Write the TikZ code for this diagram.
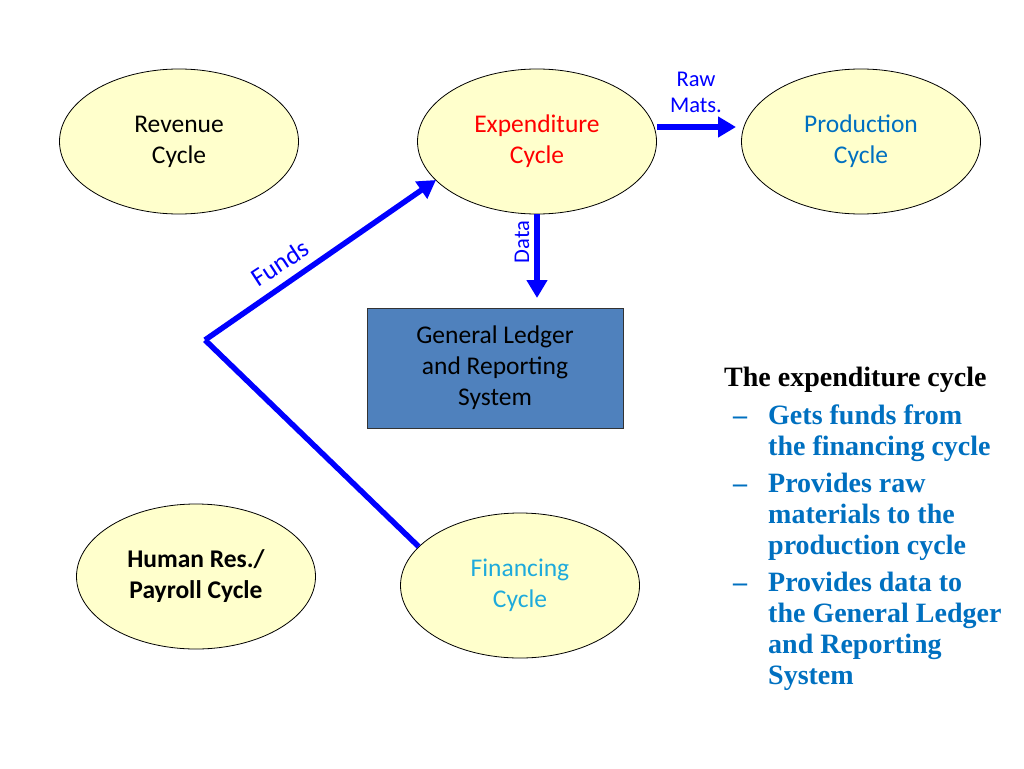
\documentclass[tikz,border=0pt]{standalone}
\usepackage{fontspec}
\setmainfont{Carlito}
\newfontfamily\timesf{Liberation Serif}
\usetikzlibrary{shapes.geometric,arrows.meta}
\definecolor{cyc}{RGB}{255,255,204}
\definecolor{glblue}{RGB}{79,129,189}
\definecolor{txtblue}{RGB}{0,112,192}
\definecolor{fincyan}{RGB}{30,170,220}
\definecolor{arrblue}{RGB}{0,0,255}
\tikzset{
  cycle/.style={ellipse, draw=black, line width=0.8pt, fill=cyc, minimum width=239pt, minimum height=145pt, inner sep=0pt, align=center, font=\fontsize{25.5}{31}\selectfont},
  flow/.style={draw=arrblue, line width=5.5pt},
  flowarrow/.style={flow, -{Triangle[length=18pt,width=20pt]}},
  flowlabel/.style={text=arrblue, font=\fontsize{22.5}{26}\selectfont, align=center, inner sep=0pt}
}
\newcommand{\dsh}{\makebox[44pt][l]{\hspace{9pt}–}}
\begin{document}
\begin{tikzpicture}[x=1pt,y=-1pt]
\useasboundingbox (0,0) rectangle (1024,768);
\node[cycle] (rev) at (179,141.5) {Revenue\\Cycle};
\node[cycle, text=red] (exp) at (537,141.5) {Expenditure\\Cycle};
\node[cycle, text=txtblue] (prod) at (861,141.5) {Production\\Cycle};
\node[cycle, font=\bfseries\fontsize{25.5}{31}\selectfont] (hr) at (196,576.5) {Human Res./\\Payroll Cycle};
\node[cycle, text=fincyan] (fin) at (520,585.5) {Financing\\Cycle};
\node[draw=black!80, line width=0.8pt, fill=glblue, minimum width=256pt, minimum height=120pt, align=center, font=\fontsize{25.5}{31}\selectfont] (gl) at (495,368) {General Ledger\\and Reporting\\System};
% Raw materials
\coordinate (rawend) at (736,127);
\draw[flowarrow] (exp.east |- rawend) -- (rawend);
\node[flowlabel] (rawlbl) at (696,92) {Raw\\Mats.};
% Data
\coordinate (dataend) at (537,298);
\draw[flowarrow] (exp.south) -- (dataend);
\node[flowlabel, rotate=90] (datalbl) at (522,242) {Data};
% Funds
\coordinate (corner) at (205,340);
\coordinate (fundsend) at (436,180);
\draw[flow] (fin.159) -- (corner);
\draw[flowarrow] (corner) -- (fundsend);
\node[flowlabel, rotate=33, font=\fontsize{26}{30}\selectfont] (fundslbl) at (280,263) {Funds};
% Text block
\node[anchor=base west, inner sep=0pt, text=txtblue, font=\timesf\bfseries\fontsize{28}{31}\selectfont] (txt) at (724,386) {%
\renewcommand{\arraystretch}{1}%
\setlength{\tabcolsep}{0pt}%
\begin{tabular}[t]{@{}l@{}l@{}}
\multicolumn{2}{@{}l@{}}{\color{black}The expenditure cycle}\\[7pt]
\dsh & Gets funds from\\
 & the financing cycle\\[6pt]
\dsh & Provides raw\\
 & materials to the\\
 & production cycle\\[6pt]
\dsh & Provides data to\\
 & the General Ledger\\
 & and Reporting\\
 & System
\end{tabular}};
\end{tikzpicture}
\end{document}
